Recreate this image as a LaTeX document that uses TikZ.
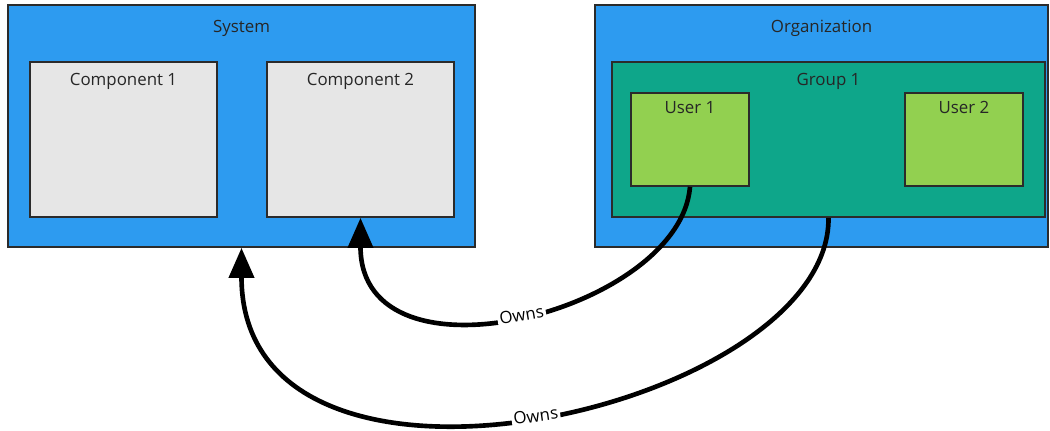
\documentclass[tikz,border=0pt]{standalone}
\usepackage{fontspec}
\setmainfont{Open Sans}
\usetikzlibrary{positioning,fit,arrows.meta}
\definecolor{sysblue}{HTML}{2D9BF0}
\definecolor{grpteal}{HTML}{0EA68A}
\definecolor{usrgreen}{HTML}{92D050}
\definecolor{compgray}{HTML}{E6E6E6}
\definecolor{edgegray}{HTML}{2B2B2B}
\begin{document}
\begin{tikzpicture}[
        x=0.025cm, y=-0.025cm,
        node distance=1.2cm,
        % Hộp ngoài (System / Organization)
        outer/.style={
            rectangle, draw=edgegray, fill=sysblue,
            line width=1.2pt, inner sep=0pt
        },
        % Thành phần
        comp/.style={
            rectangle, draw=edgegray, fill=compgray,
            line width=1.2pt, inner sep=0pt
        },
        % Nhóm
        grp/.style={
            rectangle, draw=edgegray, fill=grpteal,
            line width=1.2pt, inner sep=0pt
        },
        % Người dùng
        usr/.style={
            rectangle, draw=edgegray, fill=usrgreen,
            line width=1.2pt, inner sep=0pt
        },
        % Tiêu đề hộp
        title/.style={
            text=black!85, font=\fontsize{12}{14}\selectfont, inner sep=1pt
        },
        % Mũi tên
        owns/.style={
            line width=3.3pt,
            -{Triangle[length=0.75cm, width=0.62cm]}
        },
        % Nhãn mũi tên
        rel/.style={
            fill=white, inner sep=1.5pt, sloped,
            font=\fontsize{12}{14}\selectfont
        }
    ]
        \useasboundingbox (0,0) rectangle (1050,430);

        % Hệ thống
        \node [outer, fit={(8,5) (475,247)}] (sys) {};
        \node [title, below=0.36cm of sys.north] (sys-t) {System};
        \node [comp, fit={(30,62) (217,217)}] (c1) {};
        \node [title, below=0.27cm of c1.north] (c1-t) {Component 1};
        \node [comp, fit={(267,62) (454,217)}] (c2) {};
        \node [title, below=0.27cm of c2.north] (c2-t) {Component 2};

        % Tổ chức
        \node [outer, fit={(595,5) (1048,247)}] (org) {};
        \node [title, below=0.36cm of org.north] (org-t) {Organization};
        \node [grp, fit={(612,62) (1045,217)}] (g1) {};
        \node [title, below=0.27cm of g1.north] (g1-t) {Group 1};
        \node [usr, fit={(631,93) (749,186)}] (u1) {};
        \node [title, below=0.18cm of u1.north] (u1-t) {User 1};
        \node [usr, fit={(905,93) (1023,186)}] (u2) {};
        \node [title, below=0.18cm of u2.north] (u2-t) {User 2};

        % Mũi tên nối
        \draw [owns] (u1.south) .. controls +(-10,125) and +(0,175) .. node [rel] (o1) {Owns} (c2.south);
        \draw [owns] (g1.south) .. controls +(2,192) and +(0,296) .. node [rel] (o2) {Owns} (sys.south);

    \end{tikzpicture}
\end{document}
